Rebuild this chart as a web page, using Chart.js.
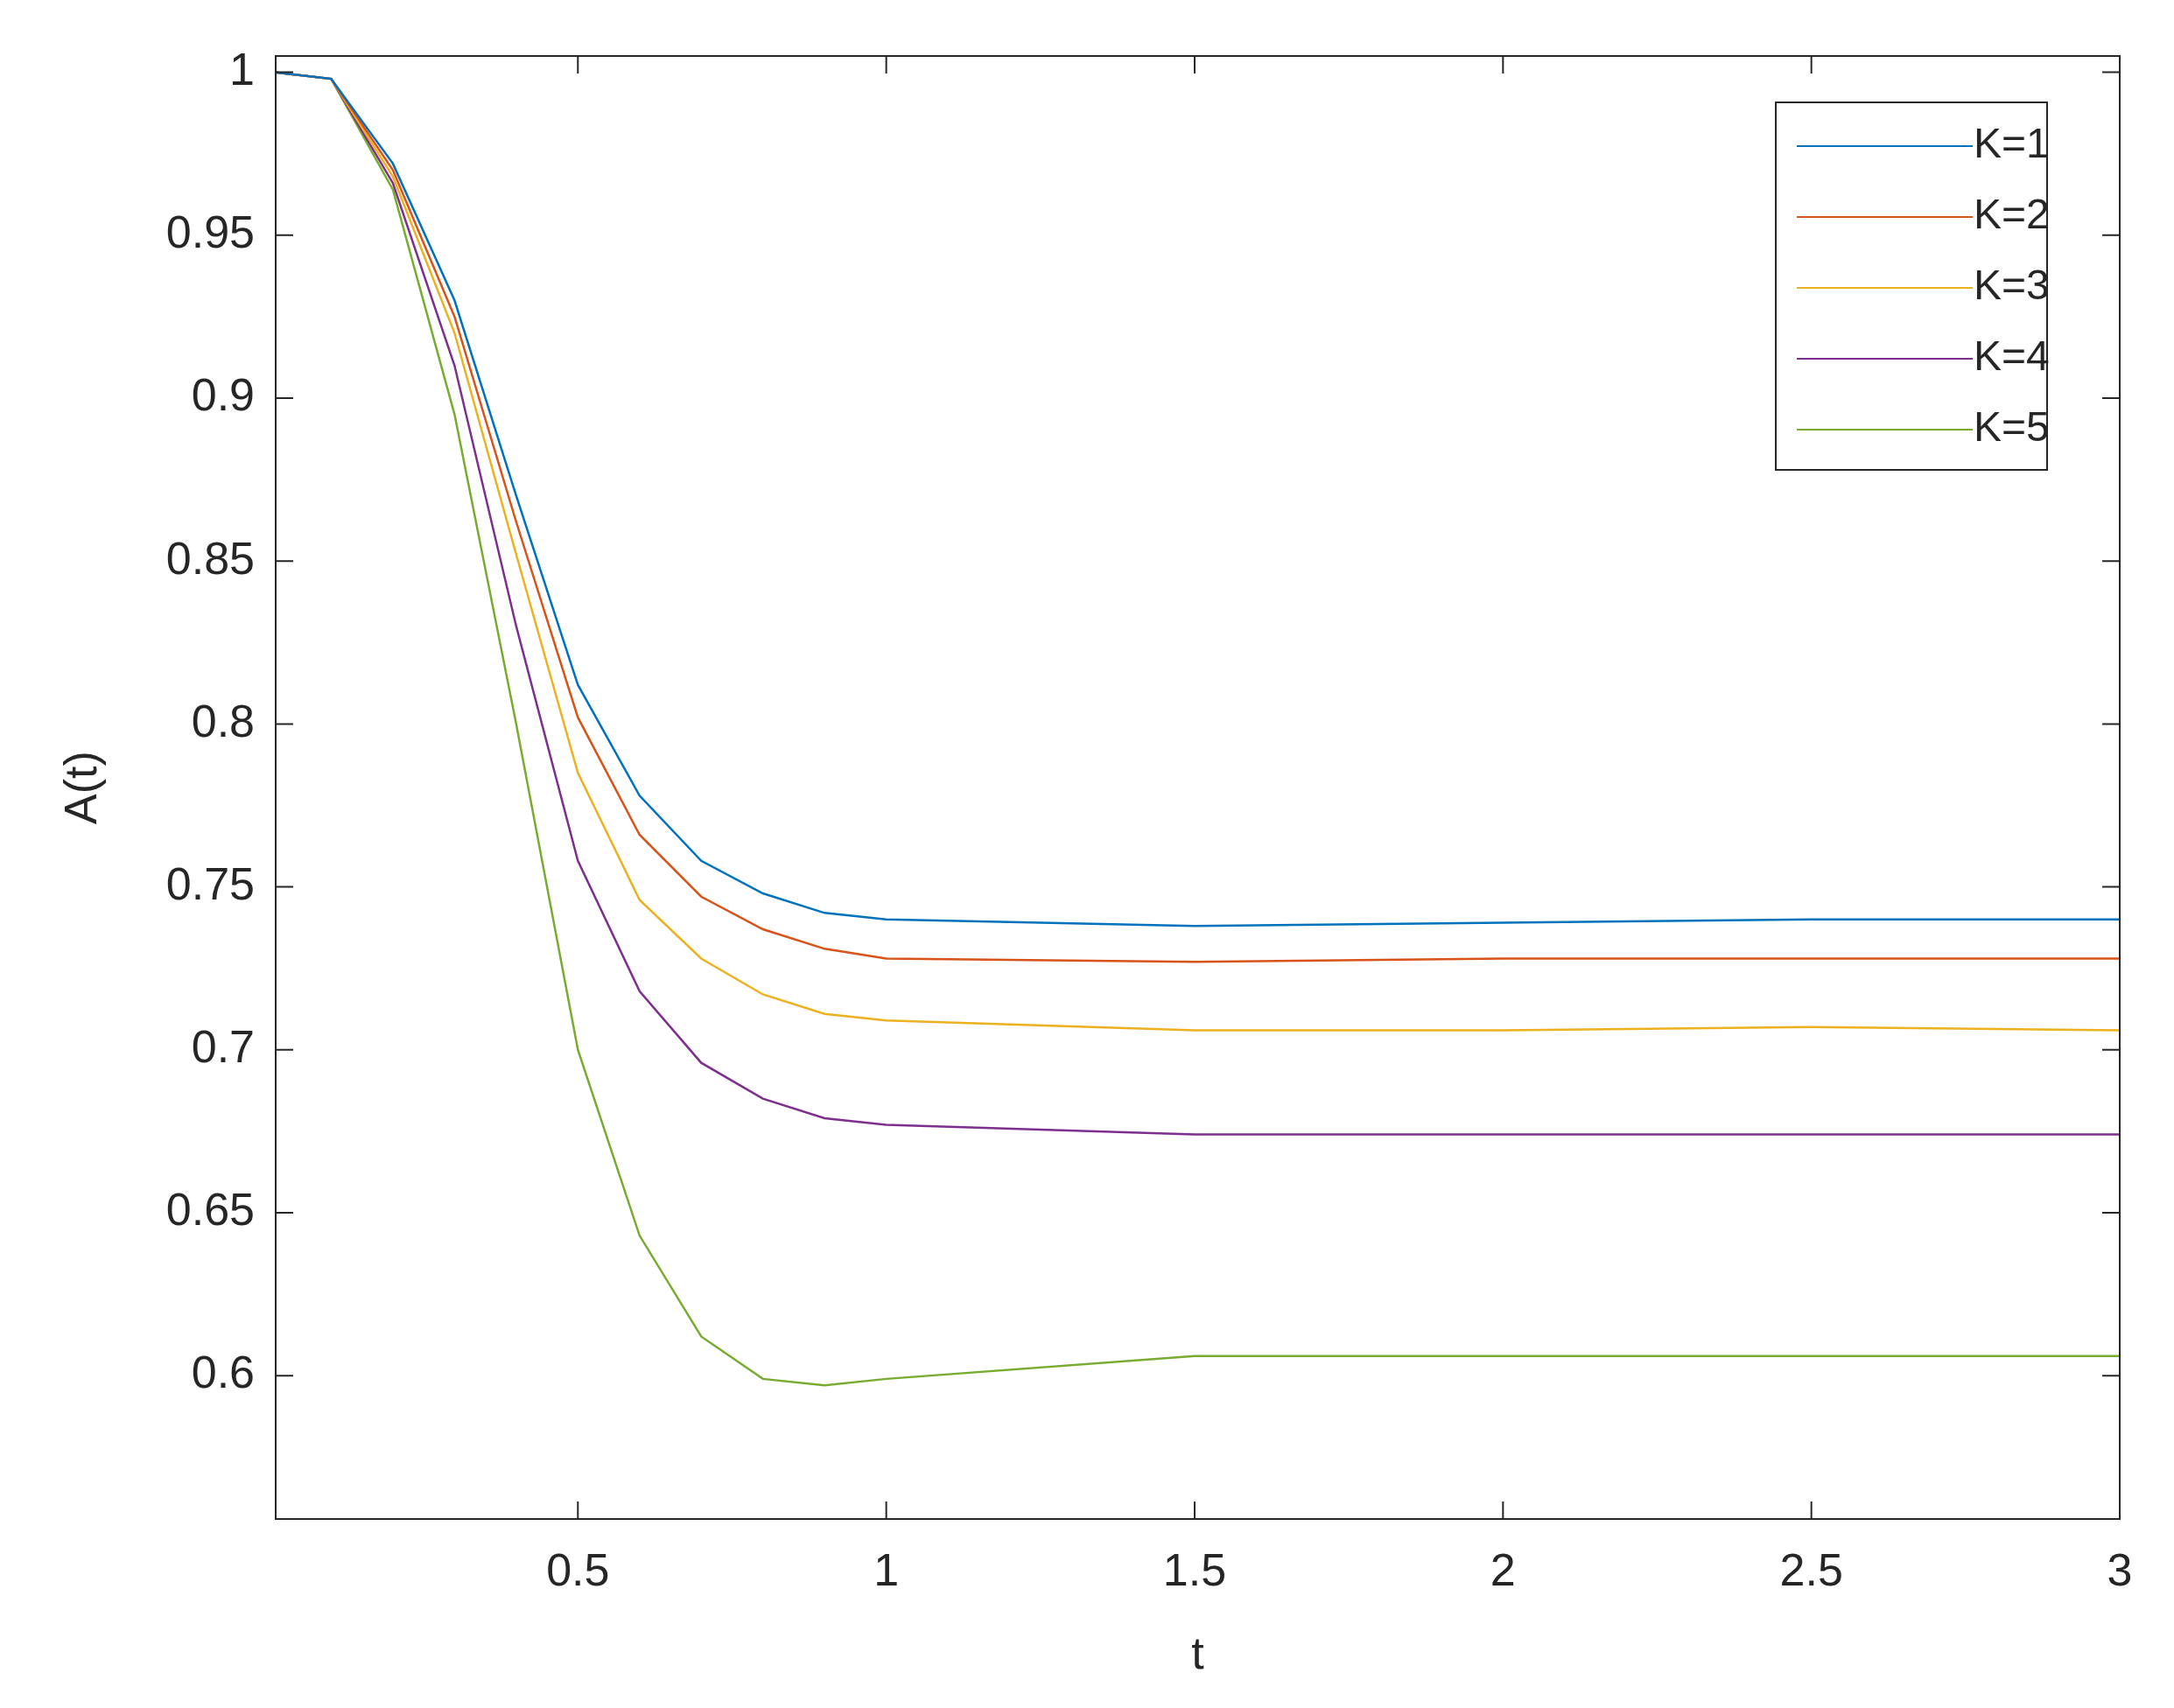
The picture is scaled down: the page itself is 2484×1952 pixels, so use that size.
<!DOCTYPE html>
<html>
<head>
<meta charset="utf-8">
<script src="https://cdn.jsdelivr.net/npm/chart.js@4"></script>
<style>
  html, body { margin: 0; padding: 0; background: #fff; }
  #wrap { width: 2484px; height: 1952px; }
</style>
</head>
<body>
<div id="wrap"><canvas id="plot" width="2484" height="1952"></canvas></div>
<script>
'use strict';

const times = [0.01, 0.1, 0.2, 0.3, 0.4, 0.5, 0.6, 0.7, 0.8, 0.9, 1.0, 1.5, 2.0, 2.5, 3.0];
const k1 = [1, 0.998, 0.972, 0.930, 0.870, 0.812, 0.778, 0.758, 0.748, 0.742, 0.740, 0.738, 0.739, 0.740, 0.740];
const k2 = [1, 0.998, 0.970, 0.925, 0.862, 0.802, 0.766, 0.747, 0.737, 0.731, 0.728, 0.727, 0.728, 0.728, 0.728];
const k3 = [1, 0.998, 0.968, 0.920, 0.852, 0.785, 0.746, 0.728, 0.717, 0.711, 0.709, 0.706, 0.706, 0.707, 0.706];
const k4 = [1, 0.998, 0.966, 0.910, 0.830, 0.758, 0.718, 0.696, 0.685, 0.679, 0.677, 0.674, 0.674, 0.674, 0.674];
const k5 = [1, 0.998, 0.964, 0.895, 0.800, 0.700, 0.643, 0.612, 0.599, 0.597, 0.599, 0.606, 0.606, 0.606, 0.606];
const seriesNames = ['K=1', 'K=2', 'K=3', 'K=4', 'K=5'];
const seriesColors = ['#0072BD', '#D95319', '#EDB120', '#7E2F8E', '#77AC30'];
const xTicks = [0.5, 1, 1.5, 2, 2.5, 3];
const yTicks = [0.6, 0.65, 0.7, 0.75, 0.8, 0.85, 0.9, 0.95, 1];

const FONT = 'Arial, "Liberation Sans", sans-serif';

function toPoints(values) {
    return values.map((v, i) => ({ x: times[i], y: v }));
}

// box, inward ticks on all sides, legend box inside top-right
const matlabFrame = {
    id: 'matlabFrame',
    afterDraw(chart) {
        const ctx = chart.ctx;
        const a = chart.chartArea;
        const xs = chart.scales.x, ys = chart.scales.y;
        ctx.save();
        ctx.strokeStyle = '#262626';
        ctx.lineWidth = 2;
        ctx.strokeRect(a.left, a.top, a.right - a.left, a.bottom - a.top);
        const len = 20;
        ctx.beginPath();
        xTicks.forEach(t => {
            const px = xs.getPixelForValue(t);
            ctx.moveTo(px, a.bottom); ctx.lineTo(px, a.bottom - len);
            ctx.moveTo(px, a.top); ctx.lineTo(px, a.top + len);
        });
        yTicks.forEach(t => {
            const py = ys.getPixelForValue(t);
            ctx.moveTo(a.left, py); ctx.lineTo(a.left + len, py);
            ctx.moveTo(a.right, py); ctx.lineTo(a.right - len, py);
        });
        ctx.stroke();

        // legend
        const bx = 2029, by = 117, bw = 310, bh = 420;
        ctx.fillStyle = '#fff';
        ctx.fillRect(bx, by, bw, bh);
        ctx.strokeStyle = '#262626';
        ctx.strokeRect(bx, by, bw, bh);
        ctx.font = '48px ' + FONT;
        ctx.textBaseline = 'middle';
        chart.data.datasets.forEach((ds, i) => {
            const cy = by + 50 + i * 81;
            ctx.strokeStyle = ds.borderColor;
            ctx.lineWidth = 2;
            ctx.beginPath();
            ctx.moveTo(bx + 24, cy); ctx.lineTo(bx + 225, cy);
            ctx.stroke();
            ctx.fillStyle = '#262626';
            ctx.fillText(ds.label, bx + 226, cy);
        });
        ctx.restore();
    }
};

new Chart(document.getElementById('plot').getContext('2d'), {
    type: 'line',
    data: {
        datasets: seriesNames.map((name, i) => ({
            label: name,
            data: toPoints([k1, k2, k3, k4, k5][i]),
            borderColor: seriesColors[i],
            borderWidth: 2.5,
            pointRadius: 0,
            fill: false,
            tension: 0
        }))
    },
    options: {
        responsive: false,
        animation: false,
        devicePixelRatio: 1,
        layout: { padding: { top: 64, right: 62, left: 60, bottom: 24 } },
        plugins: { legend: { display: false }, tooltip: { enabled: false } },
        scales: {
            x: {
                type: 'linear',
                min: 0.01,
                max: 3.0,
                afterBuildTicks: s => { s.ticks = xTicks.map(v => ({ value: v })); },
                afterFit: s => { s.height = 192; },
                grid: { display: false, drawTicks: false },
                border: { display: false },
                ticks: { color: '#262626', font: { size: 52, family: FONT }, padding: 30, maxRotation: 0,
                         callback: v => String(v) },
                title: { display: true, text: 't', color: '#262626', font: { size: 52, family: FONT }, padding: { top: 0 } }
            },
            y: {
                type: 'linear',
                min: 0.556,
                max: 1.005,
                afterBuildTicks: s => { s.ticks = yTicks.map(v => ({ value: v })); },
                afterFit: s => { s.width = 255; },
                grid: { display: false, drawTicks: false },
                border: { display: false },
                ticks: { color: '#262626', font: { size: 52, family: FONT }, padding: 24,
                         callback: v => String(v) },
                title: { display: true, text: 'A(t)', color: '#262626', font: { size: 52, family: FONT }, padding: { bottom: 0 } }
            }
        }
    },
    plugins: [matlabFrame]
});
</script>
</body>
</html>
